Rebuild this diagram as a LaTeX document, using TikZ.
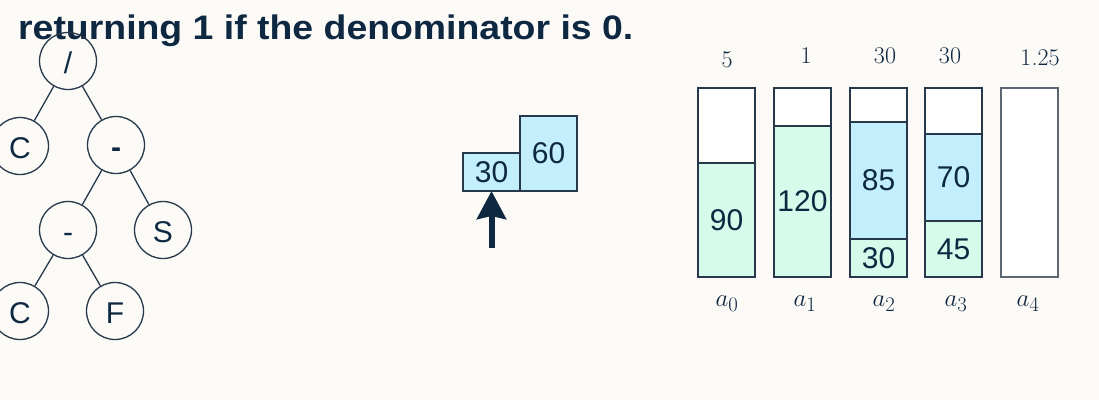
\documentclass[tikz,border=0pt]{standalone}
\usepackage{fontspec}
\usetikzlibrary{arrows.meta}
\newfontfamily\arialfont{Liberation Sans}
\newfontfamily\headfont{Liberation Sans Bold}[FakeStretch=1.1]
\definecolor{bg}{HTML}{FBFAF7}
\definecolor{navy}{HTML}{0E2841}
\definecolor{edge}{HTML}{26384A}
\definecolor{mint}{HTML}{D6FBEA}
\definecolor{sky}{HTML}{C3EFFC}
\definecolor{grayedge}{HTML}{5C6773}
\begin{document}
\begin{tikzpicture}[x=1pt,y=-1pt,
  tnode/.style={circle, draw=edge, line width=1.3pt, minimum size=57pt, inner sep=0pt,
    text height=25pt, text depth=0pt,
    font=\arialfont\fontsize{30}{30}\selectfont, text=navy},
  tedge/.style={draw=edge, line width=1.3pt},
  seg/.style={draw=edge, line width=1.4pt, inner sep=0pt, outer sep=0pt, anchor=north west,
    minimum width=57pt, font=\arialfont\fontsize{30}{30}\selectfont, text=navy},
  wseg/.style={seg, fill=white},
  gseg/.style={seg, fill=mint},
  bseg/.style={seg, fill=sky},
  toplab/.style={font=\fontsize{24}{24}\selectfont, text=navy},
  botlab/.style={font=\fontsize{29}{29}\selectfont, text=navy},
]
\useasboundingbox (0,0) rectangle (1099,400);
\fill[bg] (0,0) rectangle (1099,400);

% heading
\node[anchor=base west, inner sep=0pt, text=navy, font=\headfont\fontsize{34}{34}\selectfont] (head) at (18,39) {returning 1 if the denominator is 0.};

% tree
\node[tnode] (root) at (68,61) {/};
\node[tnode] (c1) at (20,146) {C};
\node[tnode] (m1) at (116,145) {\textbf{-}};
\node[tnode] (m2) at (68,230) {-};
\node[tnode] (s) at (163,230) {S};
\node[tnode] (c2) at (20,311) {C};
\node[tnode] (f) at (115,311) {F};
\draw[tedge] (root) -- (c1);
\draw[tedge] (root) -- (m1);
\draw[tedge] (m1) -- (m2);
\draw[tedge] (m1) -- (s);
\draw[tedge] (m2) -- (c2);
\draw[tedge] (m2) -- (f);

% stack
\node[bseg, minimum width=57pt, minimum height=38pt] (st30) at (463,153) {30};
\node[bseg, minimum width=57pt, minimum height=75pt] (st60) at (520,116) {60};
\coordinate (arrbase) at (491.5,248);
\draw[navy, line width=6pt, -{Stealth[width=29pt,length=28pt,inset=3pt]}] (arrbase) -- (st30.south);

% bars
\node[wseg, minimum height=75pt] (b0w) at (698,88) {};
\node[gseg, minimum height=114pt] (b0g) at (698,163) {90};

\node[wseg, minimum height=38pt] (b1w) at (774,88) {};
\node[gseg, minimum height=151pt] (b1g) at (774,126) {120};

\node[wseg, minimum height=34pt] (b2w) at (850,88) {};
\node[bseg, minimum height=117pt] (b2b) at (850,122) {85};
\node[gseg, minimum height=38pt] (b2g) at (850,239) {30};

\node[wseg, minimum height=46pt] (b3w) at (925,88) {};
\node[bseg, minimum height=87pt] (b3b) at (925,134) {70};
\node[gseg, minimum height=56pt] (b3g) at (925,221) {45};

\node[wseg, draw=grayedge, minimum height=189pt] (b4w) at (1001,88) {};

% top labels
\node[toplab] (t0) at (727,60) {5};
\node[toplab] (t1) at (806,56) {1};
\node[toplab] (t2) at (885,56) {30};
\node[toplab] (t3) at (950,56) {30};
\node[toplab] (t4) at (1040,58) {1.25};

% bottom labels
\node[botlab] (a0) at (727,304) {$a_0$};
\node[botlab] (a1) at (805,304) {$a_1$};
\node[botlab] (a2) at (884,304) {$a_2$};
\node[botlab] (a3) at (956,304) {$a_3$};
\node[botlab] (a4) at (1028,304) {$a_4$};
\end{tikzpicture}
\end{document}
